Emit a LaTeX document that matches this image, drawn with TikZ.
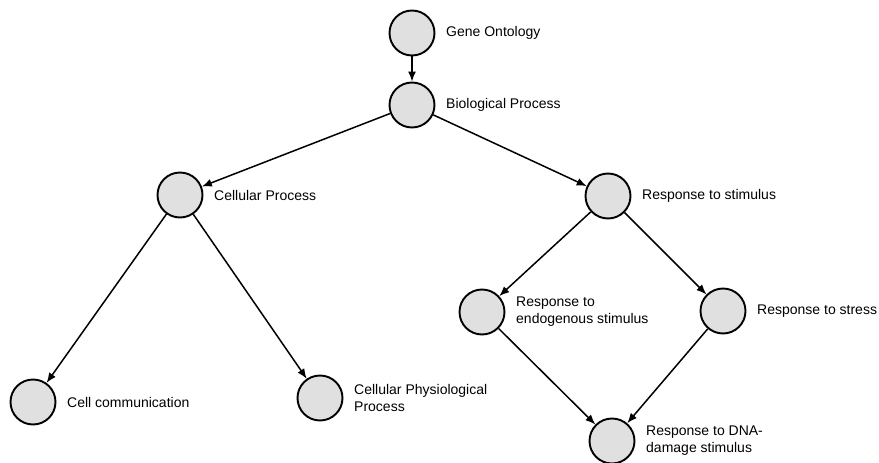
\documentclass[tikz,border=0pt]{standalone}
\usepackage{fontspec}
\setmainfont{Liberation Sans}
\usetikzlibrary{arrows.meta}
\definecolor{termgray}{RGB}{224,224,224}
\begin{document}
\begin{tikzpicture}
    [x=1pt,y=-1pt,line width=1.5pt,
     term/.style={circle,draw,line width=1.9pt,fill=termgray,minimum size=45pt,inner sep=0pt},
     termlabel/.style={anchor=west,align=left,inner sep=0pt,font=\fontsize{14}{17}\selectfont},
     >={Latex[length=10pt,width=8pt]}]
    \useasboundingbox (0,0) rectangle (879,463);
    \node (go) at (412,33) [term] {};
    \node (bp) at (412,105) [term] {};
    \node (cp) at (180,195) [term] {};
    \node (rs) at (608,196) [term] {};
    \node (cc) at (33,402) [term] {};
    \node (cpp) at (320,398) [term] {};
    \node (re) at (482,312) [term] {};
    \node (rst) at (723,311) [term] {};
    \node (dna) at (612,441) [term] {};
    \node at ([xshift=10pt]go.east) [termlabel] {Gene Ontology};
    \node at ([xshift=10pt]bp.east) [termlabel] {Biological Process};
    \node at ([xshift=10pt]cp.east) [termlabel] {Cellular Process};
    \node at ([xshift=10pt]rs.east) [termlabel] {Response to stimulus};
    \node at ([xshift=10pt]cc.east) [termlabel] {Cell communication};
    \node at ([xshift=10pt]cpp.east) [termlabel] {Cellular Physiological\\Process};
    \node at ([xshift=10pt]re.east) [termlabel] {Response to\\endogenous stimulus};
    \node at ([xshift=10pt]rst.east) [termlabel] {Response to stress};
    \node at ([xshift=10pt]dna.east) [termlabel] {Response to DNA-\\damage stimulus};
    \draw [->] (go) to (bp);
    \draw [->] (bp) to (cp);
    \draw [->] (bp) to (rs);
    \draw [->] (cp) to (cc);
    \draw [->] (cp) to (cpp);
    \draw [->] (rs) to (re);
    \draw [->] (rs) to (rst);
    \draw [->] (re) to (dna);
    \draw [->] (rst) to (dna);
\end{tikzpicture}
\end{document}
